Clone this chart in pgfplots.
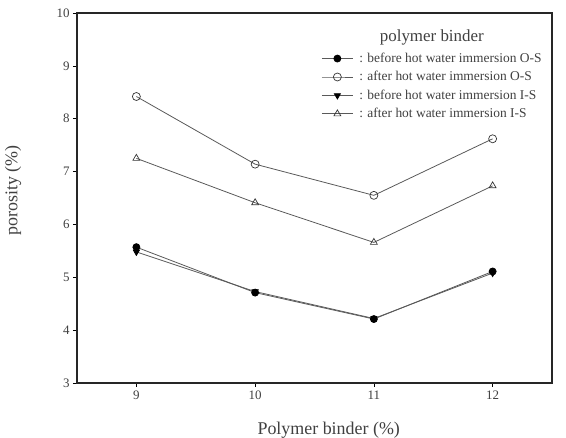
\documentclass[border=0pt]{standalone}
\usepackage{pgfplots}
\pgfplotsset{compat=1.18}
\usepackage{fontspec}
\setmainfont{Liberation Serif}
\begin{document}
\begin{tikzpicture}[x=1bp,y=1bp]
\begin{axis}[
  at={(0,0)}, anchor=south west,
  scale only axis, width=475bp, height=370bp,
  xmin=8.5, xmax=12.5, ymin=3, ymax=10,
  xtick={9,10,11,12}, ytick={3,4,5,6,7,8,9,10},
  axis line style={line width=1.6pt, black!85},
  tick style={black, line width=0.6pt},
  major tick length=4bp,
  xtick pos=bottom, ytick pos=left,
  tick align=outside,
  ticklabel style={font=\fontsize{13}{14}\selectfont, text=black!75},
  /pgf/number format/assume math mode=true,
  ylabel={porosity (\%)},
  ylabel style={font=\fontsize{18}{20}\selectfont, text=black!75, at={(axis description cs:-0.11,0.52)}},
  xlabel={Polymer binder (\%)},
  xlabel style={font=\fontsize{18}{20}\selectfont, text=black!75, at={(axis description cs:0.53,-0.095)}, anchor=north},
  legend image code/.code={\draw[mark repeat=2,mark phase=2,#1] plot coordinates {(0bp,0bp)(15.5bp,0bp)(31bp,0bp)};},
  legend style={draw=none, fill=none, at={(rel axis cs:0.508,0.903)}, anchor=north west,
    font=\fontsize{13.5}{14}\selectfont, text=black!75, row sep=3.5bp,
    /tikz/every odd column/.append style={column sep=4bp}},
  legend cell align=left,
  every axis plot/.append style={line width=0.8pt, black!65},
]
\addplot[mark=*, mark size=3.5bp, mark options={draw=black, fill=black}]
  coordinates {(9,5.57) (10,4.71) (11,4.21) (12,5.11)};
\addlegendentry{: before hot water immersion O-S}
\addplot[mark=o, mark size=4bp, mark options={draw=black!80, fill=white, line width=0.7pt}]
  coordinates {(9,8.42) (10,7.14) (11,6.55) (12,7.62)};
\addlegendentry{: after hot water immersion O-S}
\addplot[mark=triangle*, mark size=3.5bp, mark options={draw=black, fill=black, rotate=180}]
  coordinates {(9,5.48) (10,4.73) (11,4.22) (12,5.08)};
\addlegendentry{: before hot water immersion I-S}
\addplot[mark=triangle, mark size=4bp, mark options={draw=black!80, fill=white, line width=0.7pt}]
  coordinates {(9,7.25) (10,6.41) (11,5.66) (12,6.73)};
\addlegendentry{: after hot water immersion I-S}
\node[font=\fontsize{17}{19}\selectfont, text=black!75] at (rel axis cs:0.747,0.935) {polymer binder};
\end{axis}
\pgfresetboundingbox
\path[use as bounding box] (-77,-55) rectangle (489,383);
\end{tikzpicture}
\end{document}
